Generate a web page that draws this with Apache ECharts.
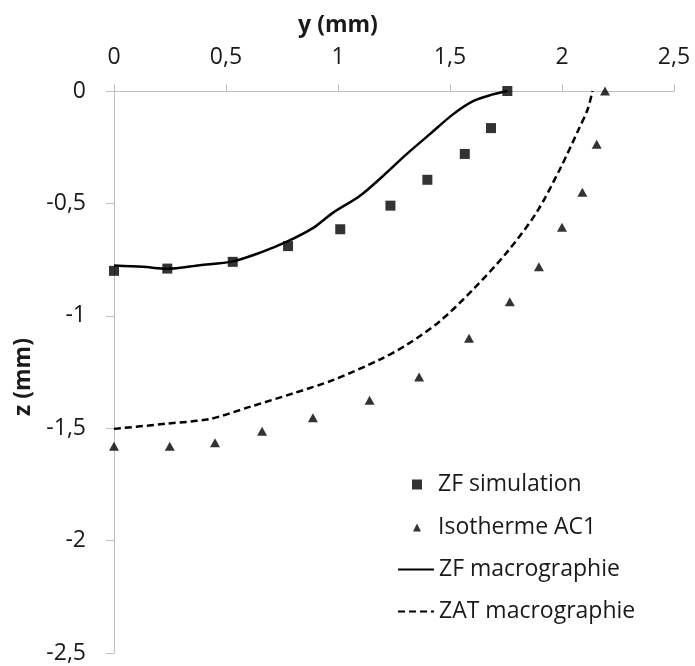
<!DOCTYPE html>
<html>
<head>
<meta charset="utf-8">
<script src="https://cdn.jsdelivr.net/npm/echarts@6/dist/echarts.min.js"></script>
<style>
  html, body { margin: 0; padding: 0; background: #fff; }
  #chart { width: 695px; height: 666px; }
</style>
</head>
<body>
<div id="chart"></div>
<script>
// Fusion zone (ZF) from simulation: y (mm) / z (mm)
const simY = [0, 0.238, 0.530, 0.777, 1.010, 1.234, 1.399, 1.566, 1.683, 1.756];
const simZ = [-0.80, -0.79, -0.76, -0.69, -0.615, -0.51, -0.395, -0.28, -0.165, 0];

// AC1 isotherm
const isoY = [0, 0.249, 0.451, 0.661, 0.888, 1.141, 1.362, 1.585, 1.767, 1.897, 2.0, 2.091, 2.155, 2.192];
const isoZ = [-1.58, -1.58, -1.565, -1.514, -1.454, -1.376, -1.272, -1.10, -0.938, -0.782, -0.606, -0.45, -0.237, 0];

// ZF boundary measured on the macrograph
const zfMacroY = [0, 0.129, 0.238, 0.383, 0.530, 0.650, 0.777, 0.891, 0.978, 1.097, 1.201, 1.305, 1.409, 1.513, 1.603, 1.692, 1.756];
const zfMacroZ = [-0.776, -0.782, -0.791, -0.775, -0.758, -0.720, -0.668, -0.608, -0.541, -0.467, -0.378, -0.282, -0.193, -0.104, -0.045, -0.015, 0];

// HAZ (ZAT) boundary measured on the macrograph
const zatMacroY = [0, 0.234, 0.427, 0.606, 0.80, 0.98, 1.186, 1.305, 1.454, 1.603, 1.752, 1.886, 1.990, 2.07, 2.115, 2.136];
const zatMacroZ = [-1.503, -1.480, -1.459, -1.405, -1.345, -1.285, -1.195, -1.13, -1.025, -0.883, -0.720, -0.541, -0.349, -0.18, -0.08, 0];

// Axis ranges and ticks
const yRange = { min: 0, max: 2.5, step: 0.5 };
const zRange = { min: -2.5, max: 0, step: 0.5 };

const seriesNames = ['ZF simulation', 'Isotherme AC1', 'ZF macrographie', 'ZAT macrographie'];

const pairs = (xs, ys) => xs.map((x, i) => [x, ys[i]]);
const comma = v => String(v).replace('.', ',');

const FONT = '"Open Sans", "Noto Sans", sans-serif';
const TXT = '#1a1a1a';
const AXIS = '#bfbfbf';

const chart = echarts.init(document.getElementById('chart'), null, { renderer: 'canvas' });

const legendText = { fontFamily: FONT, fontSize: 23, color: TXT };
const legendBase = {
  orient: 'vertical',
  padding: 0,
  selectedMode: false
};

chart.setOption({
  animation: false,
  backgroundColor: '#fff',
  grid: { left: 114, right: 21, top: 91, bottom: 13, containLabel: false },
  xAxis: {
    type: 'value',
    position: 'top',
    min: yRange.min, max: yRange.max, interval: yRange.step,
    axisLine: { show: true, onZero: false, lineStyle: { color: AXIS, width: 1 } },
    axisTick: { show: true, inside: false, length: 7, lineStyle: { color: AXIS } },
    axisLabel: { margin: 22, fontFamily: FONT, fontSize: 23, color: TXT, formatter: comma },
    splitLine: { show: false }
  },
  yAxis: {
    type: 'value',
    min: zRange.min, max: zRange.max, interval: zRange.step,
    axisLine: { show: true, onZero: false, lineStyle: { color: AXIS, width: 1 } },
    axisTick: { show: true, inside: false, length: 8, lineStyle: { color: AXIS } },
    axisLabel: { margin: 28, fontFamily: FONT, fontSize: 23, color: TXT, formatter: comma },
    splitLine: { show: false }
  },
  legend: [
    Object.assign({}, legendBase, {
      left: 412, top: 473, itemWidth: 10, itemHeight: 10,
      textStyle: Object.assign({ padding: [0, 0, 0, 11] }, legendText),
      data: [{ name: seriesNames[0], icon: 'rect' }]
    }),
    Object.assign({}, legendBase, {
      left: 413, top: 516, itemWidth: 8, itemHeight: 8,
      textStyle: Object.assign({ padding: [0, 0, 0, 12] }, legendText),
      data: [{ name: seriesNames[1], icon: 'triangle' }]
    }),
    Object.assign({}, legendBase, {
      left: 397, top: 558, itemWidth: 36, itemHeight: 10, itemGap: 19,
      itemStyle: { opacity: 0 },
      textStyle: legendText,
      data: [seriesNames[2], seriesNames[3]]
    })
  ],
  graphic: [
    {
      type: 'text', x: 338, y: 25,
      style: { text: 'y (mm)', fontFamily: FONT, fontSize: 23, fontWeight: 'bold', fill: TXT, align: 'center', verticalAlign: 'middle' }
    },
    {
      type: 'text', x: 23, y: 377, rotation: Math.PI / 2,
      style: { text: 'z (mm)', fontFamily: FONT, fontSize: 23, fontWeight: 'bold', fill: TXT, align: 'center', verticalAlign: 'middle' }
    }
  ],
  series: [
    {
      name: seriesNames[0], type: 'scatter',
      data: pairs(simY, simZ),
      symbol: 'rect', symbolSize: 10,
      itemStyle: { color: '#000' }, z: 5
    },
    {
      name: seriesNames[1], type: 'scatter',
      data: pairs(isoY, isoZ),
      symbol: 'triangle', symbolSize: [10, 9],
      itemStyle: { color: '#000' }, z: 5
    },
    {
      name: seriesNames[2], type: 'line',
      data: pairs(zfMacroY, zfMacroZ),
      smooth: 0.3, symbol: 'none', showSymbol: false,
      lineStyle: { color: '#000', width: 2.5, type: 'solid' },
      itemStyle: { color: '#000' }
    },
    {
      name: seriesNames[3], type: 'line',
      data: pairs(zatMacroY, zatMacroZ),
      smooth: 0.3, symbol: 'none', showSymbol: false,
      lineStyle: { color: '#000', width: 2.5, type: [7, 4] },
      itemStyle: { color: '#000' }
    }
  ]
});
</script>
</body>
</html>
